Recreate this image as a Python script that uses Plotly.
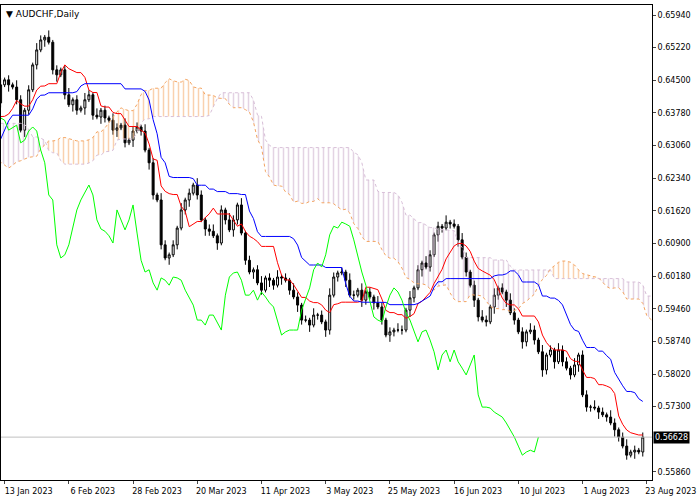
import plotly.graph_objects as go
import numpy as np

dates = ["13 Jan 2023","6 Feb 2023","28 Feb 2023","20 Mar 2023","11 Apr 2023","3 May 2023",
         "25 May 2023","16 Jun 2023","10 Jul 2023","1 Aug 2023","23 Aug 2023"]

pre_close = [0.650,0.652,0.655,0.653,0.656,0.657,0.654,0.650,0.648,0.651,
             0.649,0.645,0.642,0.644,0.640,0.636,0.638,0.633,0.630,0.628,
             0.625,0.627,0.622,0.619,0.621,0.617,0.615,0.614,0.618,0.622,
             0.626,0.629,0.627,0.631,0.634,0.632,0.636,0.633,0.630,0.628,
             0.631,0.634,0.637,0.635,0.632,0.629,0.627,0.624,0.626,0.623,
             0.621,0.6195,0.623,0.627,0.630,0.633,0.631,0.635,0.637,0.634,
             0.636,0.638,0.635,0.633,0.636,0.639,0.637,0.634,0.632,0.630,
             0.6295,0.633,0.636,0.639,0.641,0.643,0.640,0.644]

closes = [0.6451,0.6440,0.6435,0.6407,0.6340,0.6384,0.6429,0.6484,0.6517,0.6539,
          0.6545,0.6534,0.6473,0.6462,0.6473,0.6418,0.6396,0.6407,0.6384,0.6389,
          0.6407,0.6418,0.6373,0.6369,0.6384,0.6367,
          0.6362,0.6340,0.6345,0.6351,0.6312,0.6318,0.6338,0.6347,0.6338,0.6296,
          0.6268,0.6197,0.6186,0.6087,0.6058,0.6065,0.6087,0.6124,0.6164,0.6186,
          0.6201,0.6219,0.6197,0.6142,0.6122,0.6117,0.6107,0.6091,0.6164,0.6142,
          0.6120,0.6142,0.6175,0.6113,0.6053,0.6027,0.6032,0.6003,0.5987,0.6014,
          0.6009,0.5998,0.6016,0.6014,0.6009,0.5987,0.5972,0.5954,0.5921,0.5921,
          0.5910,0.5932,0.5932,0.5917,0.5899,0.5976,0.6016,0.6025,0.6027,0.6009,
          0.5976,0.5976,0.5987,0.5965,0.5983,0.5972,0.5959,0.5950,0.5921,0.5888,
          0.5895,0.5899,0.5899,0.5899,0.5943,0.5970,0.5992,0.6032,0.6047,0.6038,
          0.6065,0.6109,0.6128,0.6124,0.6137,0.6133,0.6128,0.6098,0.6060,0.6027,
          0.5998,0.5965,0.5928,0.5921,0.5917,0.5950,0.5976,0.5992,0.5983,0.5965,
          0.5937,0.5921,0.5895,0.5873,0.5895,0.5899,0.5877,0.5851,0.5811,0.5844,
          0.5855,0.5829,0.5855,0.5829,0.5815,0.5800,0.5822,0.5844,0.5756,0.5729,
          0.5729,0.5727,0.5718,0.5712,0.5707,0.5694,0.5679,0.5663,0.5643,0.5623,
          0.5630,0.5634,0.5630,0.5663]

# wick sizes in units of 5 pips (upper / lower), prehistory then visible bars
up_wick = ("21312213121321231212312132121231213121231213121231213121321213123121321213121"
           "3121321213213121231213213121321312213121321213121321231213213121231213121321"
           "21312132121321312132121321312132121312132121321312132121321312132")
dn_wick = ("12131221312132121312132121312132121312132121321312132121321312132121312132121"
           "2131213212131231213213121321231213121321213121231213213121321213121321312132"
           "13121321213121321312132121321312132121312132121321312132121321312")

price_ticks = [0.65940,0.65220,0.64500,0.63780,0.63060,0.62340,0.61620,0.60900,
               0.60180,0.59460,0.58740,0.58020,0.57300,0.55860]
last = 0.56628

all_close = pre_close + closes
npre = len(pre_close)
n = len(all_close)
opens = [all_close[0]] + all_close[:-1]
uw = [int(c) * 0.0005 for c in (up_wick * 2)[:n]]
dw = [int(c) * 0.0005 for c in (dn_wick * 2)[:n]]
highs = [max(o, c) + u for o, c, u in zip(opens, all_close, uw)]
lows = [min(o, c) - d for o, c, d in zip(opens, all_close, dw)]
xs = list(range(-npre, n - npre))

H = np.array(highs); L = np.array(lows)
def mid(p):
    out = np.full(n, np.nan)
    for i in range(p - 1, n):
        out[i] = (H[i - p + 1:i + 1].max() + L[i - p + 1:i + 1].min()) / 2
    return out
tenkan = mid(9); kijun = mid(26); sb = mid(52)
sa = (tenkan + kijun) / 2
xsp = [x + 26 for x in xs]
A = sa; B = sb
lo = np.minimum(A, B)
hiA = np.where(A >= B, A, lo)
hiB = np.where(B > A, B, lo)

vis = slice(npre - 1, None)
fig = go.Figure()
for hi, col in ((hiA, "#F4A460"), (hiB, "#C8A8C8")):
    fig.add_trace(go.Scatter(x=xsp, y=lo, mode="lines", line=dict(width=0), showlegend=False, hoverinfo="skip"))
    fig.add_trace(go.Scatter(x=xsp, y=hi, mode="lines", line=dict(width=0), fill="tonexty",
                             fillcolor="rgba(0,0,0,0)",
                             fillpattern=dict(shape="|", fgcolor=col, size=5, solidity=0.3, bgcolor="rgba(0,0,0,0)"),
                             showlegend=False, hoverinfo="skip"))
fig.add_trace(go.Scatter(x=xsp, y=A, mode="lines", line=dict(color="#F4A460", width=1, dash="dot"), showlegend=False))
fig.add_trace(go.Scatter(x=xsp, y=B, mode="lines", line=dict(color="#D8BFD8", width=1, dash="dot"), showlegend=False))
fig.add_trace(go.Candlestick(x=xs[vis], open=opens[vis], high=highs[vis], low=lows[vis], close=all_close[vis],
                             increasing=dict(line=dict(color="black", width=1), fillcolor="white"),
                             decreasing=dict(line=dict(color="black", width=1), fillcolor="black"),
                             whiskerwidth=0, showlegend=False))
fig.add_trace(go.Scatter(x=xs, y=tenkan, mode="lines", line=dict(color="red", width=1), showlegend=False))
fig.add_trace(go.Scatter(x=xs, y=kijun, mode="lines", line=dict(color="blue", width=1), showlegend=False))
fig.add_trace(go.Scatter(x=[x - 26 for x in xs], y=all_close, mode="lines", line=dict(color="#00FF00", width=1), showlegend=False))

fig.add_hline(y=last, line=dict(color="#C0C0C0", width=1))
fig.add_annotation(x=1, xref="paper", y=last, yref="y", text="%.5f" % last, showarrow=False,
                   xanchor="left", xshift=1, bgcolor="black", borderpad=1,
                   font=dict(color="white", size=8, family="DejaVu Sans"))
fig.add_annotation(x=0.005, xref="paper", y=1, yref="paper", text="▼ AUDCHF,Daily", showarrow=False,
                   xanchor="left", yanchor="top", yshift=-2, font=dict(color="black", size=9, family="DejaVu Sans"))

fig.update_layout(width=700, height=500, margin=dict(l=1, r=48, t=5, b=20, autoexpand=False),
                  plot_bgcolor="white", paper_bgcolor="white",
                  xaxis=dict(range=[-0.9, 161.3], rangeslider=dict(visible=False), showgrid=False,
                             tickvals=[16 * k for k in range(len(dates))], ticktext=dates, tickangle=0,
                             ticklabelshift=24, automargin=False,
                             ticks="outside", ticklen=3, showline=True, linecolor="black", mirror=True,
                             tickfont=dict(size=8, family="DejaVu Sans", color="black"), zeroline=False),
                  yaxis=dict(side="right", range=[0.55682, 0.66161], showgrid=False, automargin=False,
                             tickvals=price_ticks, ticktext=["%.5f" % v for v in price_ticks],
                             ticks="outside", ticklen=3,
                             showline=True, linecolor="black", mirror=True, zeroline=False,
                             tickfont=dict(size=8, family="DejaVu Sans", color="black")))
fig.write_html("out.html", config={"displayModeBar": False},
               post_script="document.body.style.margin='0';")
